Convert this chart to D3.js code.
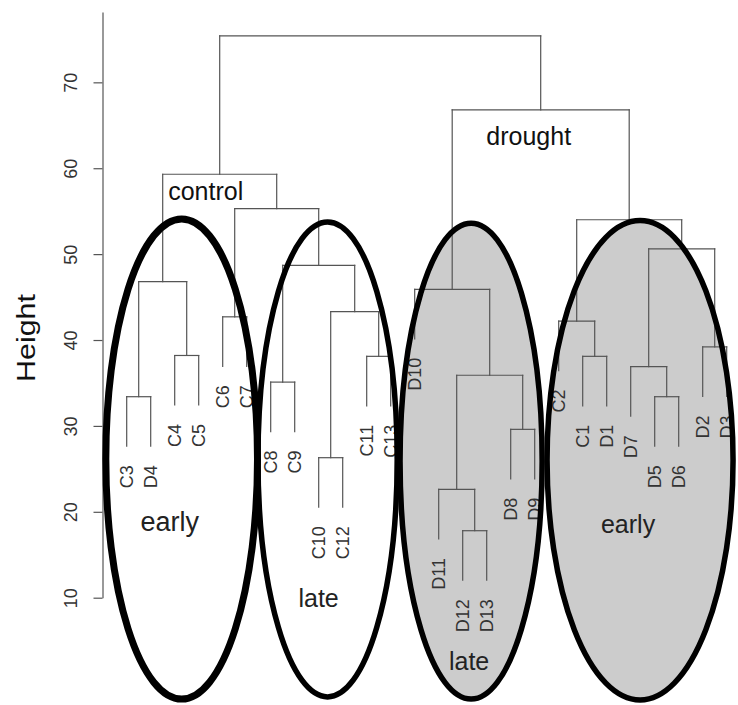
<!DOCTYPE html>
<html>
<head>
<meta charset="utf-8">
<script src="https://cdn.jsdelivr.net/npm/d3@7"></script>
<style>
  html, body { margin: 0; padding: 0; background: #ffffff; }
  svg { display: block; }
  text { font-family: "Liberation Sans", Arial, Helvetica, sans-serif; }
</style>
</head>
<body>
<svg id="chart" width="738" height="705"></svg>
<script>
// ---------------- data ----------------
const leaves = ["C3","D4","C4","C5","C6","C7","C8","C9","C10","C12","C11","C13",
                "D10","D11","D12","D13","D8","D9","C2","C1","D1","D7","D5","D6","D2","D3"];

// merge list: [left, right] — a string is a leaf, a number refers to an earlier merge
const mergeLeft  = ["C3","C4",0,"C6","C8","C10","C11",5,4,3,2,"D12","D11","D8",12,"D10","C1","C2","D5","D7","D2",19,17,15,10];
const mergeRight = ["D4","C5",1,"C7","C9","C12","C13",6,7,8,9,"D13",11,"D9",13,14,"D1",16,"D6",18,"D3",20,21,22,23];
const mergeHeight = [33.4,38.2,46.8,42.7,35.1,26.3,38.1,43.3,48.7,55.3,59.3,
                     17.8,22.6,29.6,35.9,45.9,38.1,42.2,33.4,36.9,39.2,50.6,54.0,66.8,75.4];

const yTicks = [10,20,30,40,50,60,70];
const axisTitle = "Height";

// group annotations (in data units: leaf index for x, height for y)
const groupNames   = ["early","late","late","early"];
const groupCenter  = [2.29, 8.37, 14.35, 21.39];
const groupHalfW   = [3.16, 2.90, 2.96, 3.875];
const groupTop     = [54.1, 53.75, 53.6, 53.9];
const groupBottom  = [-1.8, -1.55, -1.8, -1.9];
const groupFilled  = [false, false, true, true];
const branchNames  = ["control","drought"];

// ---------------- scales ----------------
const svg = d3.select("#chart");
const x = d3.scaleLinear().domain([0, leaves.length - 1]).range([126.7, 726.7]);
const y = d3.scaleLinear().domain([10, 78.2]).range([597.7, 11.9]);

const hang = 0.1 * (d3.max(mergeHeight) - d3.min(mergeHeight));

// compute node positions
const leafIdx = new Map(leaves.map((l, i) => [l, i]));
const nodes = [];
function pos(ref) {
  if (typeof ref === "string") {
    return { x: x(leafIdx.get(ref)), leaf: true, name: ref };
  }
  return { x: nodes[ref].x, h: nodes[ref].h, leaf: false };
}
const segs = [];
const leafEnds = [];
mergeHeight.forEach((h, i) => {
  const a = pos(mergeLeft[i]), b = pos(mergeRight[i]);
  const yTop = y(h);
  [a, b].forEach(c => {
    const yb = c.leaf ? y(h - hang) : y(c.h);
    segs.push([c.x, yTop, c.x, yb]);
    if (c.leaf) leafEnds.push({ name: c.name, x: c.x, y: yb });
  });
  segs.push([a.x, yTop, b.x, yTop]);
  nodes.push({ x: (a.x + b.x) / 2, h: h });
});

// ---------------- group ellipse fills ----------------
const groups = groupNames.map((n, i) => ({
  name: n,
  cx: x(groupCenter[i]),
  rx: x(groupCenter[i] + groupHalfW[i]) - x(groupCenter[i]),
  cy: (y(groupTop[i]) + y(groupBottom[i])) / 2,
  ry: (y(groupBottom[i]) - y(groupTop[i])) / 2,
  filled: groupFilled[i],
  sw: i === 0 ? 7 : 5.5
}));

svg.append("g").selectAll("ellipse").data(groups).join("ellipse")
  .attr("cx", d => d.cx).attr("cy", d => d.cy)
  .attr("rx", d => d.rx).attr("ry", d => d.ry)
  .attr("fill", d => d.filled ? "#cccccc" : "#ffffff")
  .attr("stroke", "none");

// ---------------- axis ----------------
const axis = svg.append("g")
  .attr("transform", `translate(${102.5},0)`)
  .call(d3.axisLeft(y).tickValues(yTicks).tickSize(9).tickSizeOuter(0).tickFormat(d3.format("d")));
axis.select(".domain").attr("stroke", "#555").attr("stroke-width", 1.2);
axis.selectAll(".tick line").attr("stroke", "#555").attr("stroke-width", 1.2);
axis.selectAll(".tick text")
  .attr("x", null).attr("dy", null)
  .attr("transform", "translate(-26,0) rotate(-90)")
  .attr("text-anchor", "middle")
  .attr("font-size", 18)
  .attr("font-family", "'Liberation Sans', Arial, sans-serif")
  .attr("fill", "#333");

svg.append("text")
  .attr("transform", `translate(35,${338}) rotate(-90)`)
  .attr("text-anchor", "middle")
  .attr("font-size", 26)
  .attr("textLength", 88)
  .attr("lengthAdjust", "spacingAndGlyphs")
  .attr("fill", "#111")
  .text(axisTitle);

// ---------------- dendrogram ----------------
svg.append("g").selectAll("line").data(segs).join("line")
  .attr("x1", d => d[0]).attr("y1", d => d[1])
  .attr("x2", d => d[2]).attr("y2", d => d[3])
  .attr("stroke", "#555").attr("stroke-width", 1.2)
  .attr("stroke-linecap", "square");

svg.append("g").selectAll("text").data(leafEnds).join("text")
  .attr("transform", d => `translate(${d.x},${d.y + 19}) rotate(-90)`)
  .attr("text-anchor", "end")
  .attr("dy", "0.36em")
  .attr("font-size", 18)
  .attr("fill", "#333")
  .text(d => d.name);

// ---------------- group ellipse outlines ----------------
svg.append("g").selectAll("ellipse").data(groups).join("ellipse")
  .attr("cx", d => d.cx).attr("cy", d => d.cy)
  .attr("rx", d => d.rx).attr("ry", d => d.ry)
  .attr("fill", "none")
  .attr("stroke", "#000")
  .attr("stroke-width", d => d.sw);

// ---------------- annotations ----------------
// branch labels sit under the two main clusters' merge bars
const branchNodes = [10, 23];
const branchOffsets = [[-14, 26], [-12, 35]];
svg.append("g").selectAll("text").data(branchNames).join("text")
  .attr("x", (d, i) => nodes[branchNodes[i]].x + branchOffsets[i][0])
  .attr("y", (d, i) => y(nodes[branchNodes[i]].h) + branchOffsets[i][1])
  .attr("text-anchor", "middle")
  .attr("font-size", 25)
  .attr("fill", "#111")
  .text(d => d);

const labelY = [531, 607, 670, 533];
const labelSize = [27, 25, 25, 25];
const labelDX = [-12, -9, -2, -12];
svg.append("g").selectAll("text").data(groups).join("text")
  .attr("x", (d, i) => d.cx + labelDX[i])
  .attr("y", (d, i) => labelY[i])
  .attr("text-anchor", "middle")
  .attr("font-size", (d, i) => labelSize[i])
  .attr("fill", "#222")
  .text(d => d.name);
</script>
</body>
</html>
